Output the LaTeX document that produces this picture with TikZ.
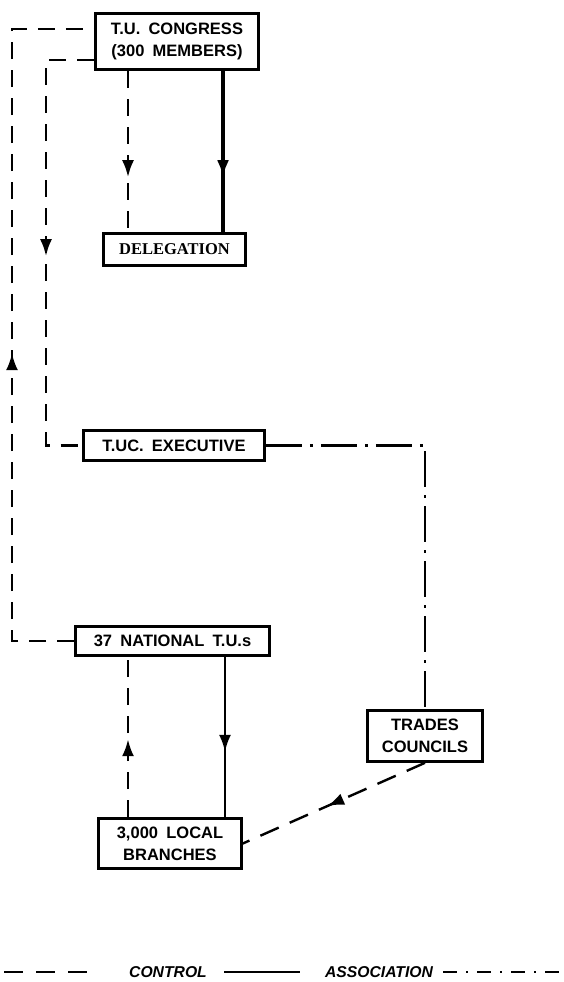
\documentclass[tikz,border=0pt]{standalone}
\usepackage{fontspec}
\setmainfont{Liberation Sans}[WordSpace=1.8]
\newfontfamily\delegfont{Liberation Serif}
\usetikzlibrary{arrows.meta,decorations.markings,calc}

\tikzset{
  box/.style={draw, line width=2.6pt, inner sep=0pt, align=center,
    font=\bfseries\fontsize{16.5}{22}\selectfont},
  ctlline/.style={line width=2.6pt, dash pattern=on 17pt off 11pt},
  assocline/.style={line width=2.4pt},
  ddline/.style={line width=2.4pt, dash pattern=on 36pt off 8pt on 3pt off 8pt},
  tipat/.style={postaction={decorate}, decoration={markings,
    mark=at position #1 with {\arrow{Latex[length=17pt,width=12pt]}}}},
  legendtext/.style={font=\bfseries\itshape\fontsize{15.7}{18}\selectfont, inner sep=0pt}
}

\begin{document}
\begin{tikzpicture}[x=1pt,y=-1pt]
  \useasboundingbox (0,0) rectangle (563,982);

  % boxes
  \node[box, line width=3.4pt, minimum width=163pt, minimum height=56pt] (cong) at (177,41.5)
    {T.U. CONGRESS\\(300 MEMBERS)};
  \node[box, minimum width=142pt, minimum height=32pt,
        font=\delegfont\bfseries\fontsize{16.5}{20}\selectfont] (deleg) at (174.5,249.5) {DELEGATION};
  \node[box, minimum width=181pt, minimum height=30pt] (exec) at (174,445.5) {T.UC. EXECUTIVE};
  \node[box, minimum width=194pt, minimum height=29pt] (natl) at (172.5,641) {37 NATIONAL T.U.s};
  \node[box, minimum width=115pt, minimum height=51pt] (trades) at (425,736) {TRADES\\COUNCILS};
  \node[box, minimum width=143pt, minimum height=50pt] (local) at (170,843.5) {3,000 LOCAL\\BRANCHES};

  % reference columns for the vertical runs
  \coordinate (xo) at (12,0);
  \coordinate (xi) at (46,0);
  \coordinate (xa) at (128,0);
  \coordinate (xb) at (223,0);
  \coordinate (xc) at (225,0);
  \coordinate (cgo) at ([yshift=12.5pt]cong.west);
  \coordinate (cgi) at ([yshift=-18.5pt]cong.west);

  % congress <-> delegation
  \draw[ctlline, tipat=106pt] (cong.south -| xa) -- (deleg.north -| xa);
  \draw[assocline, line width=3.4pt, tipat=106pt] (cong.south -| xb) -- (deleg.north -| xb);

  % congress -> executive
  \draw[ctlline, tipat=244pt] (cgi) -- (cgi -| xi) -- (exec.west -| xi) -- (exec.west);

  % national -> congress
  \draw[ctlline, tipat=350pt] (natl.west) -- (natl.west -| xo) -- (cgo -| xo) -- (cgo);

  % executive to trades councils
  \draw[ddline] (exec.east) -| (trades.north);

  % national <-> local branches
  \draw[ctlline, tipat=78pt] (local.north -| xa) -- (natl.south -| xa);
  \draw[assocline, tipat=95pt] (natl.south -| xc) -- (local.north -| xc);

  % trades councils to local branches
  \draw[line width=2.4pt, dash pattern=on 20pt off 12pt, tipat=107pt] (trades.south) -- (local.east);

  % key
  \coordinate (k1a) at (4,972);   \coordinate (k1b) at (90,972);
  \coordinate (k2a) at (224,972); \coordinate (k2b) at (300,972);
  \coordinate (k3a) at (443,972); \coordinate (k3b) at (560,972);
  \draw[line width=1.8pt, dash pattern=on 19pt off 13pt] (k1a) -- (k1b);
  \node[legendtext] (kc) at (168,972) {CONTROL};
  \draw[line width=1.8pt] (k2a) -- (k2b);
  \node[legendtext] (ka) at (379,972) {ASSOCIATION};
  \draw[line width=1.8pt, dash pattern=on 14pt off 9pt on 2pt off 9pt] (k3a) -- (k3b);
\end{tikzpicture}
\end{document}
